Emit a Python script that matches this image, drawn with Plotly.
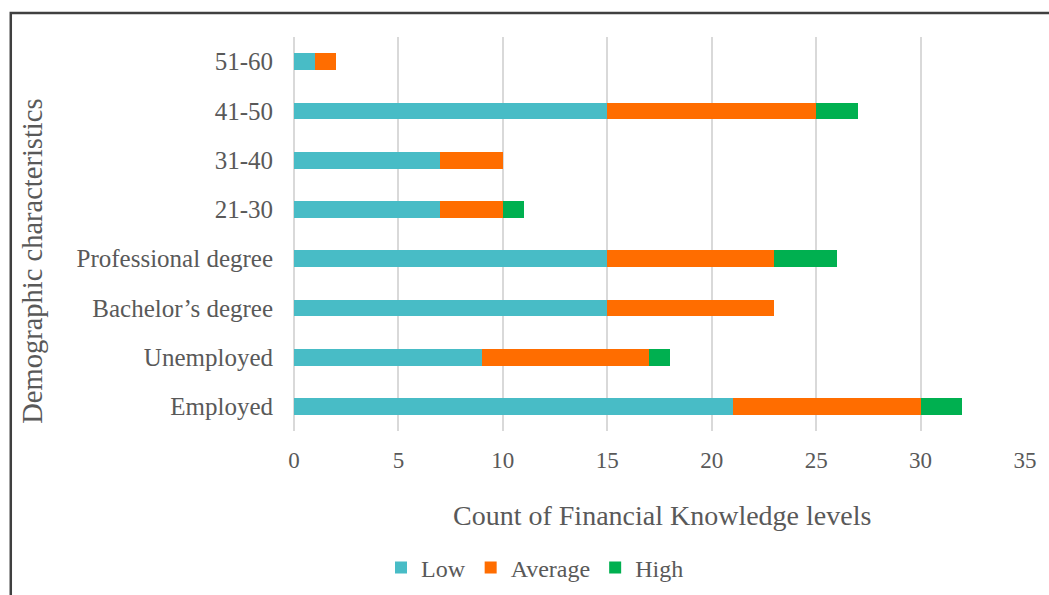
import plotly.graph_objects as go

categories = ["Employed", "Unemployed", "Bachelor\u2019s degree", "Professional degree",
              "21-30", "31-40", "41-50", "51-60"]
low = [21, 9, 15, 15, 7, 7, 15, 1]
average = [9, 8, 8, 8, 3, 3, 10, 1]
high = [2, 1, 0, 3, 1, 0, 2, 0]
x_ticks = [0, 5, 10, 15, 20, 25, 30, 35]

colors = {"Low": "#48BCC6", "Average": "#FF6D00", "High": "#00B050"}
FONT = "Liberation Serif"
TXT = "#595959"

W, H = 1049, 595
L, R, T, B = 294, 1027, 37, 431
pw, ph = R - L, B - T

def px(x):
    return (x - L) / pw

def py(y):
    return (B - y) / ph

fig = go.Figure()
for name, vals in [("Low", low), ("Average", average), ("High", high)]:
    fig.add_trace(go.Bar(y=categories, x=vals, name=name, orientation="h",
                         marker=dict(color=colors[name], line=dict(width=0))))

fig.update_layout(
    width=W, height=H,
    margin=dict(l=L, r=W - R, t=T, b=H - B),
    barmode="stack", bargap=0.66,
    plot_bgcolor="white", paper_bgcolor="white",
    font=dict(family=FONT, color=TXT, size=23),
    xaxis=dict(range=[0, 35], tickvals=x_ticks, showgrid=True, gridcolor="#d9d9d9",
               gridwidth=1.5, zeroline=True, zerolinecolor="#d9d9d9", zerolinewidth=1.5,
               showline=False, ticks="", tickfont=dict(size=23, color=TXT),
               ticklabelstandoff=13, fixedrange=True),
    yaxis=dict(categoryorder="array", categoryarray=categories, showgrid=False,
               zeroline=False, showline=False, ticks="", tickfont=dict(size=25, color=TXT),
               ticklabelstandoff=20, fixedrange=True),
    legend=dict(orientation="h", xref="container", yref="container",
                x=535 / W, xanchor="center", y=1 - 568 / H, yanchor="middle",
                font=dict(size=24, color=TXT), traceorder="normal", itemwidth=30,
                bgcolor="rgba(0,0,0,0)"),
    showlegend=True,
)

fig.add_annotation(text="Count of Financial Knowledge levels", xref="paper", yref="paper",
                   x=px(663), y=py(515), xanchor="center", yanchor="middle",
                   showarrow=False, font=dict(size=28, color=TXT, family=FONT))
fig.add_annotation(text="Demographic characteristics", xref="paper", yref="paper",
                   x=px(31), y=py(261), xanchor="center", yanchor="middle", textangle=-90,
                   showarrow=False, font=dict(size=28.5, color=TXT, family=FONT))

fig.add_shape(type="rect", xref="paper", yref="paper",
              x0=px(10), x1=px(1080), y0=py(13), y1=py(640),
              line=dict(color="#404040", width=2.5), fillcolor="rgba(0,0,0,0)", layer="above")

fig.write_html("out.html")
